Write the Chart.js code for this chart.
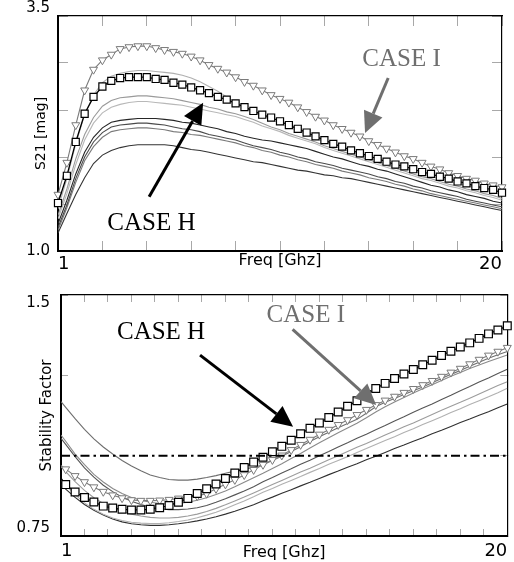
<!DOCTYPE html>
<html>
<head>
<meta charset="utf-8">
<script src="https://cdn.jsdelivr.net/npm/chart.js@4.4.1/dist/chart.umd.min.js"></script>
<style>
html,body{margin:0;padding:0;background:#fff;}
#wrap{position:relative;width:514px;height:562px;overflow:hidden;}
#c1{position:absolute;left:0;top:0;width:514px;height:280px;}
#c2{position:absolute;left:0;top:280px;width:514px;height:282px;}
</style>
</head>
<body>
<div id="wrap">
<canvas id="c1" width="514" height="280"></canvas>
<canvas id="c2" width="514" height="282"></canvas>
</div>
<script>
// ---------------- DATA: top chart (S21 magnitude) ----------------
const freqTop = [1.00,1.38,1.76,2.14,2.52,2.90,3.28,3.66,4.04,4.42,4.80,5.18,5.56,5.94,6.32,6.70,7.08,7.46,7.84,8.22,8.60,8.98,9.36,9.74,10.12,10.50,10.88,11.26,11.64,12.02,12.40,12.78,13.16,13.54,13.92,14.30,14.68,15.06,15.44,15.82,16.20,16.58,16.96,17.34,17.72,18.10,18.48,18.86,19.24,19.62,20.00];
const s21CaseH = [1.51,1.80,2.16,2.46,2.64,2.75,2.81,2.84,2.85,2.85,2.85,2.83,2.82,2.79,2.77,2.74,2.71,2.68,2.64,2.61,2.57,2.53,2.49,2.45,2.42,2.38,2.34,2.30,2.26,2.22,2.18,2.14,2.11,2.07,2.04,2.01,1.98,1.95,1.92,1.90,1.87,1.84,1.82,1.79,1.77,1.74,1.72,1.69,1.67,1.65,1.62];
const s21CaseI = [1.60,1.94,2.34,2.71,2.93,3.03,3.09,3.15,3.17,3.18,3.18,3.16,3.14,3.12,3.10,3.07,3.03,2.98,2.94,2.90,2.85,2.80,2.76,2.71,2.66,2.62,2.58,2.53,2.48,2.43,2.39,2.34,2.30,2.26,2.22,2.17,2.13,2.09,2.05,2.01,1.98,1.94,1.90,1.87,1.83,1.80,1.77,1.75,1.72,1.70,1.68];
const s21Other1 = [1.45,1.77,2.14,2.45,2.66,2.79,2.86,2.89,2.91,2.92,2.92,2.91,2.90,2.89,2.87,2.84,2.80,2.75,2.70,2.64,2.58,2.53,2.48,2.44,2.40,2.36,2.32,2.28,2.24,2.20,2.16,2.12,2.09,2.05,2.02,1.99,1.96,1.93,1.90,1.88,1.85,1.82,1.80,1.77,1.75,1.72,1.70,1.67,1.65,1.63,1.60];
const s21Other2 = [1.38,1.66,1.98,2.24,2.42,2.54,2.60,2.63,2.64,2.65,2.65,2.64,2.63,2.62,2.60,2.58,2.56,2.53,2.51,2.48,2.46,2.43,2.40,2.36,2.32,2.29,2.25,2.22,2.19,2.16,2.12,2.09,2.06,2.03,2.00,1.97,1.94,1.91,1.88,1.85,1.82,1.79,1.77,1.74,1.71,1.69,1.66,1.64,1.61,1.59,1.56];
const s21Other3 = [1.34,1.61,1.92,2.18,2.36,2.47,2.53,2.56,2.58,2.59,2.59,2.58,2.57,2.56,2.55,2.53,2.51,2.49,2.47,2.45,2.43,2.40,2.37,2.33,2.30,2.27,2.23,2.20,2.17,2.14,2.10,2.07,2.04,2.01,1.98,1.95,1.92,1.89,1.86,1.83,1.80,1.77,1.75,1.72,1.69,1.67,1.64,1.62,1.59,1.57,1.54];
const s21Other4 = [1.29,1.54,1.82,2.05,2.21,2.31,2.37,2.39,2.40,2.41,2.41,2.41,2.40,2.39,2.37,2.36,2.34,2.32,2.30,2.27,2.25,2.22,2.20,2.18,2.17,2.15,2.13,2.11,2.09,2.06,2.03,2.00,1.98,1.95,1.92,1.90,1.87,1.85,1.82,1.79,1.76,1.73,1.70,1.68,1.65,1.63,1.60,1.58,1.56,1.53,1.51];
const s21Other5 = [1.25,1.49,1.77,2.00,2.16,2.26,2.32,2.34,2.35,2.36,2.36,2.35,2.34,2.32,2.30,2.29,2.27,2.24,2.22,2.20,2.18,2.15,2.12,2.10,2.08,2.05,2.03,2.00,1.98,1.95,1.93,1.91,1.88,1.86,1.84,1.82,1.79,1.77,1.74,1.72,1.69,1.67,1.64,1.62,1.60,1.58,1.55,1.53,1.51,1.49,1.47];
const s21Other6 = [1.22,1.46,1.73,1.96,2.11,2.21,2.27,2.29,2.30,2.31,2.31,2.30,2.29,2.27,2.26,2.24,2.23,2.21,2.19,2.17,2.15,2.12,2.10,2.07,2.05,2.02,2.00,1.97,1.95,1.92,1.90,1.88,1.85,1.83,1.81,1.78,1.76,1.74,1.71,1.69,1.66,1.64,1.61,1.59,1.57,1.55,1.53,1.51,1.49,1.47,1.45];
const s21Other7 = [1.19,1.40,1.60,1.78,1.93,2.02,2.07,2.10,2.12,2.13,2.13,2.13,2.13,2.12,2.10,2.08,2.07,2.05,2.03,2.01,1.99,1.97,1.95,1.94,1.92,1.90,1.88,1.86,1.85,1.83,1.81,1.80,1.78,1.77,1.75,1.73,1.71,1.69,1.67,1.65,1.63,1.61,1.59,1.57,1.55,1.53,1.51,1.49,1.47,1.45,1.43];
const xTicksTop = [1, 2.9, 4.8, 6.7, 8.6, 10.5, 12.4, 14.3, 16.2, 18.1, 20];
const xTickLabelsTop = ['1','','','','','','','','','','20'];
const yTicksTop = [1.0, 1.5, 2.0, 2.5, 3.0, 3.5];
const yTickLabelsTop = ['1.0','','','','','3.5'];

// ---------------- DATA: bottom chart (stability factor) ----------------
const freqBottom = [1.0,1.2,1.6,2.0,2.4,2.8,3.2,3.6,4.0,4.4,4.8,5.2,5.6,6.0,6.4,6.8,7.2,7.6,8.0,8.4,8.8,9.2,9.6,10.0,10.4,10.8,11.2,11.6,12.0,12.4,12.8,13.2,13.6,14.0,14.4,14.8,15.2,15.6,16.0,16.4,16.8,17.2,17.6,18.0,18.4,18.8,19.2,19.6,20.0];
const kCaseH = [0.930,0.910,0.887,0.870,0.856,0.843,0.837,0.833,0.831,0.831,0.833,0.838,0.845,0.855,0.867,0.882,0.897,0.912,0.929,0.946,0.963,0.980,0.995,1.012,1.029,1.048,1.068,1.085,1.102,1.119,1.136,1.154,1.171,1.190,1.209,1.225,1.240,1.254,1.268,1.283,1.297,1.312,1.325,1.338,1.351,1.365,1.379,1.391,1.404];
const kCaseI = [0.970,0.958,0.937,0.918,0.902,0.888,0.877,0.868,0.862,0.860,0.860,0.861,0.863,0.867,0.870,0.874,0.882,0.897,0.911,0.925,0.940,0.956,0.972,0.987,1.001,1.018,1.034,1.050,1.066,1.081,1.096,1.111,1.127,1.143,1.158,1.172,1.184,1.196,1.208,1.220,1.233,1.246,1.259,1.271,1.285,1.299,1.312,1.324,1.336];
const kOther1 = [1.168,1.150,1.115,1.082,1.052,1.027,1.005,0.985,0.968,0.953,0.940,0.932,0.926,0.924,0.924,0.927,0.932,0.938,0.945,0.952,0.958,0.963,0.972,0.985,0.998,1.013,1.028,1.044,1.059,1.073,1.087,1.100,1.113,1.132,1.152,1.166,1.178,1.190,1.202,1.214,1.227,1.240,1.253,1.265,1.278,1.291,1.303,1.314,1.324];
const kOther2 = [1.064,1.045,1.005,0.972,0.942,0.918,0.898,0.882,0.870,0.861,0.855,0.851,0.850,0.851,0.855,0.861,0.869,0.879,0.890,0.903,0.917,0.931,0.945,0.960,0.975,0.991,1.007,1.024,1.040,1.056,1.071,1.086,1.101,1.118,1.136,1.152,1.167,1.181,1.195,1.208,1.221,1.234,1.247,1.259,1.271,1.282,1.293,1.303,1.313];
const kOther3 = [1.054,1.035,0.997,0.962,0.933,0.908,0.888,0.871,0.858,0.848,0.840,0.835,0.832,0.832,0.834,0.838,0.845,0.855,0.866,0.878,0.890,0.903,0.919,0.932,0.946,0.959,0.973,0.986,1.000,1.013,1.027,1.040,1.054,1.067,1.081,1.094,1.108,1.121,1.135,1.148,1.161,1.175,1.188,1.202,1.215,1.229,1.242,1.256,1.269];
const kOther4 = [0.966,0.950,0.919,0.892,0.869,0.851,0.837,0.826,0.818,0.812,0.808,0.806,0.806,0.808,0.812,0.818,0.826,0.836,0.847,0.859,0.871,0.884,0.897,0.910,0.923,0.936,0.949,0.961,0.974,0.987,1.000,1.013,1.026,1.038,1.051,1.064,1.077,1.090,1.102,1.115,1.128,1.141,1.154,1.166,1.179,1.192,1.205,1.218,1.230];
const kOther5 = [0.924,0.908,0.879,0.853,0.833,0.818,0.806,0.798,0.793,0.790,0.789,0.789,0.791,0.795,0.800,0.807,0.815,0.824,0.835,0.847,0.859,0.872,0.886,0.898,0.911,0.923,0.935,0.948,0.960,0.973,0.985,0.997,1.010,1.022,1.035,1.047,1.059,1.072,1.084,1.097,1.109,1.121,1.134,1.146,1.159,1.171,1.183,1.196,1.210];
const kOther6 = [0.910,0.896,0.870,0.848,0.830,0.815,0.803,0.794,0.788,0.785,0.783,0.783,0.785,0.788,0.792,0.797,0.803,0.810,0.818,0.827,0.837,0.847,0.860,0.871,0.883,0.894,0.906,0.917,0.929,0.941,0.952,0.964,0.975,0.987,0.998,1.010,1.022,1.033,1.045,1.056,1.068,1.079,1.091,1.103,1.114,1.126,1.137,1.149,1.161];
const stabilityLimit = 1.0;
const xTicksBottom = [1,2,3,4,5,6,7,8,9,10,11,12,13,14,15,16,17,18,19,20];
const xTickLabelsBottom = ['1','','','','','','','','','','','','','','','','','','','20'];
const yTicksBottom = [0.75, 1.0, 1.25, 1.5];
const yTickLabelsBottom = ['0.75','','','1.5'];

// ---------------- annotation texts ----------------
const notesTop = [
  {text: 'CASE H', at: [5.0, 1.29], arrow: [4.90, 1.578, 7.21, 2.578], color: '#000000'},
  {text: 'CASE I', at: [15.7, 3.04], arrow: [15.13, 2.84, 14.14, 2.255], color: '#6f6f6f'}
];
const notesBottom = [
  {text: 'CASE H', at: [5.26, 1.382], arrow: [6.92, 1.313, 10.88, 1.090], color: '#000000'},
  {text: 'CASE I', at: [11.42, 1.435], arrow: [10.86, 1.393, 14.42, 1.158], color: '#6f6f6f'}
];

// ---------------- rendering ----------------
Chart.defaults.font.family = 'DejaVu Sans';
Chart.defaults.color = '#000';

function series(xs, ys) { return xs.map((x, i) => ({x: x, y: ys[i]})); }

function plainLine(label, xs, ys, color) {
  return {label: label, data: series(xs, ys), borderColor: color, borderWidth: 1.1,
          pointRadius: 0, pointHoverRadius: 0, fill: false, tension: 0};
}

const notePlugin = {
  id: 'caseNotes',
  afterDatasetsDraw(chart, args, opts) {
    const ctx = chart.ctx, xs = chart.scales.x, ys = chart.scales.y;
    ctx.save();
    for (const n of (opts.notes || [])) {
      const x1 = xs.getPixelForValue(n.arrow[0]), y1 = ys.getPixelForValue(n.arrow[1]);
      const x2 = xs.getPixelForValue(n.arrow[2]), y2 = ys.getPixelForValue(n.arrow[3]);
      const ang = Math.atan2(y2 - y1, x2 - x1);
      const hl = opts.headLen, hw = opts.headHalf;
      const bx = x2 - hl * Math.cos(ang), by = y2 - hl * Math.sin(ang);
      ctx.strokeStyle = n.color; ctx.fillStyle = n.color; ctx.lineWidth = opts.shaft;
      ctx.beginPath(); ctx.moveTo(x1, y1); ctx.lineTo(bx, by); ctx.stroke();
      ctx.beginPath();
      ctx.moveTo(x2, y2);
      ctx.lineTo(bx + hw * Math.sin(ang), by - hw * Math.cos(ang));
      ctx.lineTo(bx - hw * Math.sin(ang), by + hw * Math.cos(ang));
      ctx.closePath(); ctx.fill();
      ctx.font = opts.font;
      ctx.textAlign = 'center'; ctx.textBaseline = 'middle';
      ctx.fillText(n.text, xs.getPixelForValue(n.at[0]), ys.getPixelForValue(n.at[1]));
    }
    ctx.restore();
  }
};

function noPad(s) { s.paddingTop = 0; s.paddingBottom = 0; s.paddingLeft = 0; s.paddingRight = 0; }

function buildScales(o) {
  const fix = vals => s => { s.ticks = vals.map(v => ({value: v})); };
  const gridStyle = {drawOnChartArea: false, drawTicks: true, tickLength: -o.tick, color: '#a8a8a8', tickColor: '#a8a8a8', lineWidth: 1, tickWidth: 1};
  return {
    x: {
      type: 'linear', position: 'bottom', min: o.xMin, max: o.xMax,
      afterBuildTicks: fix(o.xTicks),
      afterFit: s => { s.height = o.xHeight; noPad(s); },
      ticks: {autoSkip: false, maxRotation: 0, minRotation: 0, align: 'inner', padding: o.xPad,
              font: {size: 18}, color: '#000', callback: (v, i) => o.xLabels[i]},
      grid: gridStyle,
      border: {color: '#000', width: 2},
      title: {display: true, text: 'Freq [Ghz]', font: {size: 16}, color: '#000', padding: {top: 0, bottom: o.xTitlePad}}
    },
    xTop: {
      type: 'linear', position: 'top', min: o.xMin, max: o.xMax,
      afterBuildTicks: fix(o.xTicks),
      afterFit: s => { s.height = 0; noPad(s); },
      ticks: {display: false},
      grid: gridStyle,
      border: {color: '#000', width: 1.2}
    },
    y: {
      type: 'linear', position: 'left', min: o.yMin, max: o.yMax,
      afterBuildTicks: fix(o.yTicks),
      afterFit: s => { s.width = o.yWidth; noPad(s); },
      ticks: {autoSkip: false, padding: o.yPad, font: {size: 15, lineHeight: 1.1}, color: '#000',
              callback: (v, i) => {
                const t = o.yLabels[i];
                if (!t) return '';
                if (o.yUp.includes(i)) return [t, ''];
                if (o.yDown.includes(i)) return ['', t];
                return t;
              }},
      grid: gridStyle,
      border: {color: '#000', width: 2},
      title: {display: true, text: o.yTitle, font: {size: o.yTitleSize}, color: '#000', padding: {top: o.yTitlePad, bottom: 0}}
    },
    yRight: {
      type: 'linear', position: 'right', min: o.yMin, max: o.yMax,
      afterBuildTicks: fix(o.yTicks),
      afterFit: s => { s.width = 0; noPad(s); },
      ticks: {display: false},
      grid: gridStyle,
      border: {color: '#000', width: 1.2}
    }
  };
}

function baseOptions(scales, padding, notes) {
  return {
    responsive: false, animation: false, events: [],
    layout: {padding: padding},
    plugins: {legend: {display: false}, tooltip: {enabled: false},
              caseNotes: {notes: notes, font: '25px "Liberation Serif"', shaft: 3, headLen: 21, headHalf: 10}},
    scales: scales
  };
}

// ---- top chart ----
new Chart(document.getElementById('c1'), {
  type: 'line',
  data: {datasets: [
    {label: 'CASE H', data: series(freqTop, s21CaseH), borderColor: '#000', borderWidth: 1.3,
     pointStyle: 'rect', pointRadius: 5, pointBorderWidth: 1.2, pointBackgroundColor: '#fff',
     pointBorderColor: '#000', tension: 0, clip: false},
    {label: 'CASE I', data: series(freqTop, s21CaseI), borderColor: '#7a7a7a', borderWidth: 1.1,
     pointStyle: 'triangle', rotation: 180, pointRadius: 4.6, pointBorderWidth: 1, pointBackgroundColor: '#fff',
     pointBorderColor: '#7a7a7a', tension: 0, clip: false},
    plainLine('other 1', freqTop, s21Other1, '#b0b0b0'),
    plainLine('other 2', freqTop, s21Other2, '#9a9a9a'),
    plainLine('other 3', freqTop, s21Other3, '#b8b8b8'),
    plainLine('other 4', freqTop, s21Other4, '#262626'),
    plainLine('other 5', freqTop, s21Other5, '#4a4a4a'),
    plainLine('other 6', freqTop, s21Other6, '#7a7a7a'),
    plainLine('other 7', freqTop, s21Other7, '#333333')
  ]},
  options: baseOptions(buildScales({
    xMin: 1, xMax: 20, xTicks: xTicksTop, xLabels: xTickLabelsTop, xHeight: 29, xPad: 13, xTitlePad: 10,
    yMin: 1, yMax: 3.5, yTicks: yTicksTop, yLabels: yTickLabelsTop, yUp: [5], yDown: [],
    yWidth: 58, yPad: 18, yTitle: 'S21 [mag]', yTitleSize: 14, yTitlePad: 33, tick: 10
  }), {top: 16, right: 12, left: 0, bottom: 0}, notesTop),
  plugins: [notePlugin]
});

// ---- bottom chart ----
new Chart(document.getElementById('c2'), {
  type: 'line',
  data: {datasets: [
    {label: 'K = 1', data: [{x: freqBottom[0], y: stabilityLimit}, {x: freqBottom[freqBottom.length - 1], y: stabilityLimit}],
     borderColor: '#000', borderWidth: 2, borderDash: [9, 4, 2.5, 4], pointRadius: 0, tension: 0},
    {label: 'CASE H', data: series(freqBottom, kCaseH), borderColor: '#000', borderWidth: 1.2,
     pointStyle: 'rect', pointRadius: ctx => ctx.dataIndex === 0 ? 0 : 5.5, pointBorderWidth: 1.2,
     pointBackgroundColor: '#fff', pointBorderColor: '#000', tension: 0, clip: false},
    {label: 'CASE I', data: series(freqBottom, kCaseI), borderColor: '#7a7a7a', borderWidth: 1.1,
     pointStyle: 'triangle', rotation: 180, pointRadius: ctx => ctx.dataIndex === 0 ? 0 : 4.6, pointBorderWidth: 1,
     pointBackgroundColor: '#fff', pointBorderColor: '#7a7a7a', tension: 0, clip: false},
    plainLine('other 1', freqBottom, kOther1, '#6e6e6e'),
    plainLine('other 2', freqBottom, kOther2, '#8a8a8a'),
    plainLine('other 3', freqBottom, kOther3, '#555555'),
    plainLine('other 4', freqBottom, kOther4, '#9c9c9c'),
    plainLine('other 5', freqBottom, kOther5, '#b0b0b0'),
    plainLine('other 6', freqBottom, kOther6, '#303030')
  ]},
  options: baseOptions(buildScales({
    xMin: 1, xMax: 20, xTicks: xTicksBottom, xLabels: xTickLabelsBottom, xHeight: 26, xPad: 12, xTitlePad: 0,
    yMin: 0.75, yMax: 1.5, yTicks: yTicksBottom, yLabels: yTickLabelsBottom, yUp: [0], yDown: [3],
    yWidth: 61, yPad: 18, yTitle: 'Stability Factor', yTitleSize: 15, yTitlePad: 38, tick: 7
  }), {top: 15, right: 6, left: 0, bottom: 0}, notesBottom),
  plugins: [notePlugin]
});
</script>
</body>
</html>
